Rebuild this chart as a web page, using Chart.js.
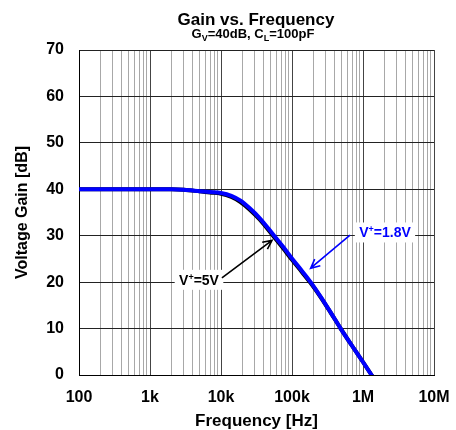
<!DOCTYPE html>
<html>
<head>
<meta charset="utf-8">
<script src="https://cdn.jsdelivr.net/npm/chart.js@4/dist/chart.umd.min.js"></script>
<style>
  html, body { margin: 0; padding: 0; background: #fff; }
  #wrap { width: 456px; height: 430px; }
</style>
</head>
<body>
<div id="wrap"><canvas id="grafica" width="456" height="430"></canvas></div>
<script>
// frequencies [Hz]
const frecuencias = [100, 200, 500, 1000, 2000, 3000, 5000, 7000, 10000, 14000, 18600, 25000,
  35000, 54000, 75000, 100000, 140000, 183000, 250000, 350000, 485000, 700000, 1000000, 1320000, 1600000];
// V+ = 1.8V (blue)
const ganancia18 = [40, 40, 40, 40, 40, 39.9, 39.6, 39.4, 39.2, 38.6, 37.6, 36.0,
  33.8, 30.3, 27.6, 25.1, 22.3, 20.0, 17.0, 13.5, 10.0, 6.3, 2.8, 0, -2];
// V+ = 5V (black)
const ganancia5 = [40, 40, 40, 40, 40, 39.9, 39.55, 39.3, 39.05, 38.35, 37.3, 35.7,
  33.5, 30.0, 27.3, 24.8, 22.05, 19.8, 16.9, 13.45, 10.0, 6.3, 2.8, 0, -2];

const decadas = [100, 1000, 10000, 100000, 1000000, 10000000];
const etiquetasX = ['100', '1k', '10k', '100k', '1M', '10M'];

// annotations: [freq, dB]
const notaNegra = { texto: ['V', '+', '=5V'], pos: [4900, 20.5], desde: [10300, 20.9], hasta: [52300, 29.0] };
const notaAzul = { texto: ['V', '+', '=1.8V'], pos: [2040000, 30.7], desde: [656000, 30.15], hasta: [183000, 23.0] };

const FUENTE = "'Liberation Sans', Arial, sans-serif";
Chart.defaults.font.family = FUENTE;

// all minor ticks 1..9 per decade
const ticksX = [];
for (let i = 0; i < decadas.length - 1; i++) {
  for (let k = 1; k <= 9; k++) ticksX.push(decadas[i] * k);
}
ticksX.push(decadas[decadas.length - 1]);

function esDecada(v) {
  const l = Math.log10(v);
  return Math.abs(l - Math.round(l)) < 1e-6;
}

// text pieces, odd ones as super/subscript
function textoPartes(ctx, partes, cx, base, size, chico, color, tipo) {
  let ancho = 0;
  partes.forEach((p, i) => {
    ctx.font = `bold ${i % 2 ? chico : size}px ${FUENTE}`;
    ancho += ctx.measureText(p).width;
  });
  let x = cx - ancho / 2;
  ctx.fillStyle = color;
  ctx.textAlign = 'left';
  ctx.textBaseline = 'alphabetic';
  partes.forEach((p, i) => {
    ctx.font = `bold ${i % 2 ? chico : size}px ${FUENTE}`;
    let y = base;
    if (i % 2) y = tipo === 'sup' ? base - size * 0.36 : base + size * 0.2;
    ctx.fillText(p, x, y);
    x += ctx.measureText(p).width;
  });
  return ancho;
}

function flecha(ctx, x1, y1, x2, y2, color) {
  const ang = Math.atan2(y2 - y1, x2 - x1);
  const largo = 10;
  ctx.save();
  ctx.strokeStyle = color;
  ctx.lineWidth = 1.6;
  ctx.beginPath();
  ctx.moveTo(x1, y1);
  ctx.lineTo(x2, y2);
  ctx.moveTo(x2 - largo * Math.cos(ang - 0.45), y2 - largo * Math.sin(ang - 0.45));
  ctx.lineTo(x2, y2);
  ctx.lineTo(x2 - largo * Math.cos(ang + 0.45), y2 - largo * Math.sin(ang + 0.45));
  ctx.stroke();
  ctx.restore();
}

const pluginNotas = {
  id: 'notas',
  afterDraw(chart) {
    const ctx = chart.ctx;
    const sx = chart.scales.x, sy = chart.scales.y;
    ctx.save();
    // title
    ctx.fillStyle = '#000';
    ctx.textAlign = 'center';
    ctx.textBaseline = 'alphabetic';
    ctx.font = `bold 17px ${FUENTE}`;
    ctx.fillText('Gain vs. Frequency', 256, 25);
    // subtitle with subscripts
    textoPartes(ctx, ['G', 'V', '=40dB, C', 'L', '=100pF'], 253, 38, 13, 9, '#000', 'sub');

    // annotations
    [[notaNegra, '#000'], [notaAzul, '#0000ff']].forEach(([n, color]) => {
      const px = sx.getPixelForValue(n.pos[0]);
      const py = sy.getPixelForValue(n.pos[1]);
      ctx.font = `bold 14px ${FUENTE}`;
      const w = ctx.measureText(n.texto[0] + n.texto[2]).width + 6;
      ctx.fillStyle = '#fff';
      ctx.fillRect(px - w / 2 - 4, py - 10, w + 8, 20);
      textoPartes(ctx, n.texto, px, py + 5, 14, 9, color, 'sup');
      flecha(ctx, sx.getPixelForValue(n.desde[0]), sy.getPixelForValue(n.desde[1]),
        sx.getPixelForValue(n.hasta[0]), sy.getPixelForValue(n.hasta[1]), color);
    });
    ctx.restore();
  }
};

const ctx = document.getElementById('grafica').getContext('2d');
new Chart(ctx, {
  type: 'line',
  data: {
    datasets: [{
      label: 'V+=1.8V',
      data: frecuencias.map((f, i) => ({ x: f, y: ganancia18[i] })),
      borderColor: '#0000ff',
      borderWidth: 4,
      pointRadius: 0,
      cubicInterpolationMode: 'monotone',
      clip: 0
    }, {
      label: 'V+=5V',
      data: frecuencias.map((f, i) => ({ x: f, y: ganancia5[i] })),
      borderColor: '#000',
      borderWidth: 4,
      pointRadius: 0,
      cubicInterpolationMode: 'monotone',
      clip: 0
    }]
  },
  options: {
    responsive: false,
    animation: false,
    layout: { padding: { top: 50, right: 22, bottom: 0, left: 13 } },
    plugins: {
      legend: { display: false },
      tooltip: { enabled: false }
    },
    scales: {
      x: {
        type: 'logarithmic',
        min: 100,
        max: 10000000,
        afterBuildTicks: (scale) => { scale.ticks = ticksX.map(v => ({ value: v })); },
        afterFit: (scale) => {
          scale.height = 55;
          scale.paddingLeft = 0;
          scale.paddingRight = 0;
        },
        ticks: {
          autoSkip: false,
          maxRotation: 0,
          minRotation: 0,
          padding: 13,
          color: '#000',
          font: { size: 16, weight: 'bold' },
          callback: (v) => esDecada(v) ? etiquetasX[Math.round(Math.log10(v)) - 2] : ''
        },
        grid: {
          drawTicks: false,
          color: (c) => c.tick && esDecada(c.tick.value) ? '#444' : '#a8a8a8',
          lineWidth: 1
        },
        border: { color: '#000', width: 1 },
        title: {
          display: true,
          text: 'Frequency [Hz]',
          color: '#000',
          padding: { top: 0, bottom: -2 },
          font: { size: 17, weight: 'bold' }
        }
      },
      y: {
        min: 0,
        max: 70,
        afterFit: (scale) => { scale.width = 66; },
        ticks: {
          stepSize: 10,
          padding: 15,
          color: '#000',
          font: { size: 16, weight: 'bold' }
        },
        grid: { drawTicks: false, color: '#222', lineWidth: 1 },
        border: { color: '#000', width: 1 },
        title: {
          display: true,
          text: 'Voltage Gain [dB]',
          color: '#000',
          padding: 0,
          font: { size: 16, weight: 'bold' }
        }
      }
    }
  },
  plugins: [pluginNotas]
});
</script>
</body>
</html>
